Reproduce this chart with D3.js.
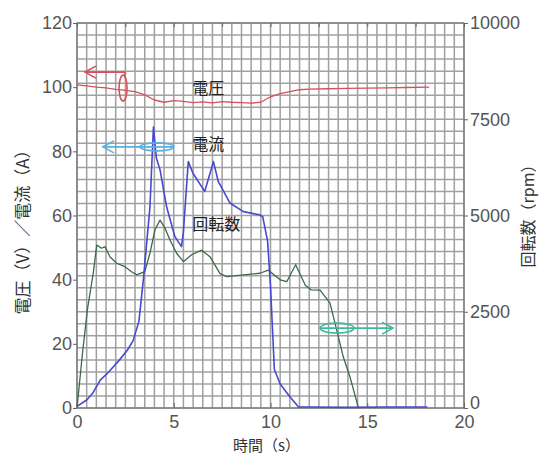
<!DOCTYPE html>
<meta charset='utf-8'>
<title>電圧・電流・回転数</title>
<style>
  body { margin: 0; background: #fff; }
  svg { display: block; font-family: 'Liberation Sans', Arial, sans-serif; }
  .grid line { stroke: #a0a0a0; stroke-width: 1.5; }
  .axis text { fill: #555; font-size: 18px; }
  .axis line { stroke: #666; }
  .axis path { display: none; }
  .title { fill: #333; font-family: 'Noto Sans CJK JP', sans-serif; font-size: 16px; }
  .note { fill: #222; font-family: 'Noto Sans CJK JP', sans-serif; font-size: 16px; }
  .series { fill: none; stroke-linejoin: round; }
</style>
<body>
<script src='https://cdn.jsdelivr.net/npm/d3@7/dist/d3.min.js'></script>
<script>

  // 電圧 (V)
  var voltT = [0, 0.5, 1.0, 1.5, 2.0, 2.5, 3.0, 3.5, 4.0, 4.5, 5.0, 5.5, 6.0, 6.5, 7.0, 7.5, 8.0, 8.5, 9.0, 9.5, 10.0, 10.5, 11.0, 11.5, 12.0, 13.0, 14.0, 15.0, 16.0, 17.0, 18.2]
  var voltV = [100.7, 100.4, 100.0, 99.8, 99.3, 99.0, 98.6, 97.6, 96.0, 95.3, 95.8, 95.6, 95.2, 95.4, 95.1, 95.5, 95.3, 95.2, 95.0, 95.3, 97.0, 98.0, 98.6, 99.2, 99.4, 99.5, 99.6, 99.7, 99.8, 99.9, 100.0]

  // 電流 (A)
  var currT = [0, 0.5, 0.8, 1.2, 1.6, 2.2, 2.6, 2.9, 3.2, 3.43, 3.77, 3.95, 4.1, 4.3, 4.63, 5.06, 5.4, 5.5, 5.75, 6.0, 6.6, 7.05, 7.3, 7.9, 8.6, 9.45, 9.6, 9.85, 10.0, 10.1, 10.2, 10.5, 11.0, 11.45, 12, 14, 16, 18.1]
  var currV = [0.5, 2.5, 4.5, 8.7, 11, 15, 18, 21, 27, 40, 62.7, 87.6, 78, 74, 62.7, 53.4, 50.3, 55, 76.8, 73.1, 67.5, 76.8, 70.6, 63.9, 61.2, 60.2, 59.6, 52, 38, 25, 12, 7.5, 3.5, 0.3, 0.3, 0.2, 0.3, 0.3]

  // 回転数 (rpm)
  var rpmT = [0, 0.3, 0.55, 0.84, 1.02, 1.27, 1.45, 1.7, 2.05, 2.48, 2.82, 3.08, 3.5, 3.77, 4.03, 4.29, 4.55, 4.8, 5.15, 5.5, 5.92, 6.44, 6.87, 7.39, 7.74, 8.6, 9.45, 9.89, 10.5, 10.84, 11.3, 11.8, 12.1, 12.56, 13.07, 13.33, 13.76, 14.1, 14.53, 14.6]
  var rpmV = [0, 1500, 2600, 3500, 4230, 4150, 4190, 3930, 3760, 3670, 3540, 3460, 3540, 4020, 4630, 4880, 4670, 4370, 4020, 3800, 3980, 4100, 3930, 3490, 3410, 3460, 3500, 3580, 3330, 3280, 3720, 3190, 3070, 3060, 2730, 2210, 1330, 820, 30, 0]

  var xTicks = [0, 5, 10, 15, 20]
  var yTicks = [0, 20, 40, 60, 80, 100, 120]
  var rTicks = [0, 2500, 5000, 7500, 10000]

  var margin = {top: 23, right: 76, bottom: 48, left: 77},
  width = 540 - margin.left - margin.right,
  height = 456 - margin.top - margin.bottom

  var svg = d3.select('body').append('svg')
  .attr('width', 540).attr('height', 456)

  var g = svg.append('g')
  .attr('transform', 'translate(' + margin.left + ',' + margin.top + ')')

  var x = d3.scaleLinear().domain([0, 20]).range([0, width])
  var y = d3.scaleLinear().domain([0, 120]).range([height, 0])
  var yR = d3.scaleLinear().domain([0, 10000]).range([height, 0])

  /* ------- GRID -------*/
  var grid = g.append('g').attr('class', 'grid')
  grid.selectAll('line.v').data(d3.range(0, 20.001, 0.5))
  .enter().append('line').attr('class', 'v')
  .attr('x1', function(d) { return x(d) }).attr('x2', function(d) { return x(d) })
  .attr('y1', 0).attr('y2', height)
  grid.selectAll('line.h').data(d3.range(0, 120.001, 120 / 32))
  .enter().append('line').attr('class', 'h')
  .attr('y1', function(d) { return y(d) }).attr('y2', function(d) { return y(d) })
  .attr('x1', 0).attr('x2', width)

  g.append('rect')
  .attr('width', width).attr('height', height)
  .attr('fill', 'none').attr('stroke', '#666')

  /* ------- AXES -------*/
  g.append('g').attr('class', 'axis')
  .call(d3.axisLeft(y).tickValues(yTicks).tickSize(4).tickPadding(1))
  g.append('g').attr('class', 'axis')
  .attr('transform', 'translate(' + width + ',0)')
  .call(d3.axisRight(yR).tickValues(rTicks).tickFormat(d3.format('d')).tickSize(4).tickPadding(2))
  .selectAll('text').filter(function(d) { return d === 0 }).attr('dy', '0.05em')
  g.append('g').attr('class', 'axis')
  .attr('transform', 'translate(0,' + height + ')')
  .call(d3.axisBottom(x).tickValues(xTicks).tickSizeInner(-5).tickSizeOuter(0).tickPadding(7))
  g.append('g').attr('class', 'axis')
  .call(d3.axisTop(x).tickValues(d3.range(0, 20.001, 2.5)).tickSizeInner(-4).tickSizeOuter(0).tickFormat(''))

  /* ------- SERIES -------*/
  function pts(ts, vs) { return ts.map(function(t, i) { return [t, vs[i]] }) }

  var lineL = d3.line().x(function(d) { return x(d[0]) }).y(function(d) { return y(d[1]) })
  var lineR = d3.line().x(function(d) { return x(d[0]) }).y(function(d) { return yR(d[1]) })

  g.append('path').attr('class', 'series')
  .attr('d', lineR(pts(rpmT, rpmV)))
  .attr('stroke', '#3a6a48').attr('stroke-width', 1.3)
  g.append('path').attr('class', 'series')
  .attr('d', lineL(pts(currT, currV)))
  .attr('stroke', '#4848d0').attr('stroke-width', 1.6)
  g.append('path').attr('class', 'series')
  .attr('d', lineL(pts(voltT, voltV)))
  .attr('stroke', '#d8505a').attr('stroke-width', 1.3)

  /* ------- ANNOTATIONS -------*/
  // arrow: from t0 to t1 at value v (left scale), head at end 'l' or 'r', ellipse at te
  var arrows = [
    {color: '#d8505a', t0: 0.41, t1: 2.48, v: 104.7, head: 'l', te: 2.38, ve: 99.7, rx: 4, ry: 13, drop: true},
    {color: '#5aaee0', t0: 1.34, t1: 5.0, v: 81.4, head: 'l', te: 4.13, ve: 81.4, rx: 17, ry: 4},
    {color: '#3cb89a', t0: 12.6, t1: 16.33, v: 24.9, head: 'r', te: 13.44, ve: 24.9, rx: 17, ry: 5}
  ]
  var ann = g.append('g').attr('fill', 'none').attr('stroke-width', 1.6)
  arrows.forEach(function(a) {
    var x0 = x(a.t0), x1 = x(a.t1), yy = y(a.v)
    ann.append('line').attr('x1', x0).attr('x2', x1).attr('y1', yy).attr('y2', yy).attr('stroke', a.color)
    var hx = a.head === 'l' ? x0 : x1, dir = a.head === 'l' ? 1 : -1
    ann.append('polyline')
    .attr('points', [[hx + dir * 11, yy - 6], [hx, yy], [hx + dir * 11, yy + 6]])
    .attr('stroke', a.color)
    if (a.drop) {
      ann.append('line').attr('x1', x1).attr('x2', x1).attr('y1', yy).attr('y2', y(a.ve) - a.ry)
      .attr('stroke', a.color)
    }
    ann.append('ellipse').attr('cx', x(a.te)).attr('cy', y(a.ve))
    .attr('rx', a.rx).attr('ry', a.ry).attr('stroke', a.color)
  })

  var notes = [
    {text: '電圧', t: 5.95, v: 99.7},
    {text: '電流', t: 5.95, v: 82.3},
    {text: '回転数', t: 5.95, v: 57.3}
  ]
  g.selectAll('text.note').data(notes).enter().append('text')
  .attr('class', 'note')
  .attr('x', function(d) { return x(d.t) })
  .attr('y', function(d) { return y(d.v) })
  .attr('dy', '0.35em')
  .text(function(d) { return d.text })

  /* ------- TITLES -------*/
  svg.append('text').attr('class', 'title')
  .attr('text-anchor', 'middle').style('font-size', '15px')
  .attr('x', margin.left + width / 2 - 4).attr('y', 446).attr('dy', '0.35em')
  .text('時間（s）')
  svg.append('text').attr('class', 'title')
  .attr('text-anchor', 'middle').style('font-size', '17px')
  .attr('transform', 'translate(23,228) rotate(-90)').attr('dy', '0.35em')
  .text('電圧（V）／電流（A）')
  svg.append('text').attr('class', 'title')
  .attr('text-anchor', 'middle')
  .attr('transform', 'translate(528,212) rotate(-90)').attr('dy', '0.35em')
  .text('回転数（rpm）')

</script>
</body>
